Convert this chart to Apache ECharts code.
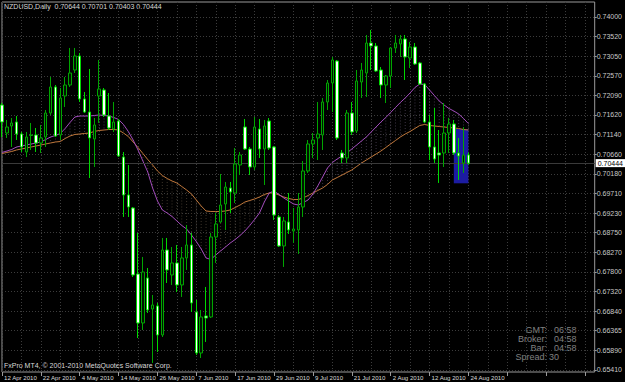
<!DOCTYPE html>
<html>
<head>
<meta charset="utf-8">
<script src="https://cdn.jsdelivr.net/npm/echarts@6/dist/echarts.min.js"></script>
<style>
html,body{margin:0;padding:0;background:#000;}
#chart{width:625px;height:382px;}
</style>
</head>
<body>
<div id="chart"></div>
<script>
// ---- data ----
const symbolTitle = 'NZDUSD,Daily  0.70644 0.70701 0.70403 0.70444';
const copyrightText = 'FxPro MT4, \u00a9 2001-2010 MetaQuotes Software Corp.';
const infoLabels = ['GMT:', 'Broker:', 'Bar:', 'Spread:'];
const infoValues = ['06:58', '04:58', '04:58', '30'];

const priceTickLabels = ['0.74000','0.73520','0.73050','0.72570','0.72090','0.71620','0.71140','0.70660','0.70180','0.69710',
  '0.69230','0.68750','0.68270','0.67800','0.67320','0.66840','0.66365','0.65890','0.65410'];

const opens = [0.71859,0.71177,0.71348,0.71445,0.71153,0.70715,0.71116,0.71129,0.70934,0.71080,
0.71664,0.72297,0.71129,0.72078,0.72345,0.72710,0.73051,0.72005,0.71688,0.71031,
0.72078,0.72224,0.71591,0.71275,0.71469,0.70593,0.69669,0.69352,0.67746,0.66554,
0.67649,0.66894,0.66968,0.66262,0.68330,0.67722,0.68014,0.67479,0.68136,0.68452,
0.66821,0.65824,0.66724,0.66700,0.68647,0.69012,0.69450,0.69839,0.69717,0.70399,
0.71323,0.70788,0.70350,0.71275,0.70788,0.71469,0.70837,0.69133,0.68428,0.69012,
0.68793,0.68817,0.69377,0.70253,0.70910,0.71056,0.71129,0.71932,0.72394,0.72929,
0.70691,0.70569,0.71664,0.71226,0.72418,0.72637,0.73367,0.73294,0.72710,0.72345,
0.72564,0.73246,0.73343,0.73465,0.73002,0.73270,0.72881,0.72370,0.71445,0.70837,
0.70691,0.70691,0.71177,0.71396,0.70691,0.70447,0.70644];

const closes = [0.71445,0.71323,0.71421,0.71153,0.70837,0.71080,0.71129,0.70934,0.71056,0.71664,
0.72297,0.71104,0.72029,0.72345,0.72637,0.73051,0.72005,0.71688,0.71056,0.71372,
0.72248,0.71615,0.71299,0.71445,0.70618,0.69669,0.69377,0.67722,0.66554,0.67795,
0.66870,0.66992,0.66262,0.68330,0.67844,0.68014,0.67479,0.68136,0.68452,0.67040,
0.65824,0.66700,0.66675,0.68647,0.68963,0.69425,0.69863,0.69742,0.70423,0.70642,
0.70788,0.70350,0.71323,0.70788,0.71348,0.70812,0.69182,0.68428,0.69036,0.68817,
0.68841,0.69377,0.70253,0.70910,0.71007,0.71153,0.71932,0.72394,0.72954,0.71056,
0.70569,0.71664,0.71202,0.72443,0.72710,0.73367,0.73294,0.72686,0.72345,0.72564,
0.73246,0.73367,0.73465,0.73027,0.73270,0.72856,0.72370,0.71445,0.70837,0.70545,
0.70642,0.71177,0.71396,0.70691,0.70618,0.70642,0.70444];

const lows = [0.71080,0.71056,0.70837,0.71007,0.70715,0.70593,0.70764,0.70715,0.70691,0.70837,
0.71615,0.71080,0.71007,0.71810,0.72297,0.72637,0.71932,0.71664,0.70082,0.70350,
0.71421,0.71567,0.71250,0.71202,0.70593,0.69133,0.69133,0.67673,0.66189,0.66384,
0.66797,0.65581,0.65848,0.66213,0.67527,0.67479,0.67308,0.67187,0.67844,0.66821,
0.65775,0.65702,0.66092,0.66675,0.68014,0.68987,0.68817,0.69231,0.69474,0.70155,
0.70764,0.70155,0.70277,0.70569,0.69912,0.70764,0.69060,0.68403,0.67917,0.68720,
0.68501,0.68233,0.69133,0.70204,0.70569,0.70520,0.70764,0.71737,0.71688,0.71007,
0.70447,0.70447,0.71129,0.71177,0.72029,0.72053,0.72710,0.72662,0.72029,0.71907,
0.72272,0.73124,0.73027,0.72467,0.72759,0.72832,0.72345,0.71421,0.70520,0.70447,
0.69961,0.70350,0.70691,0.70642,0.70034,0.70204,0.70403];

const highs = [0.71907,0.71494,0.71542,0.71591,0.71202,0.71202,0.71421,0.71299,0.71372,0.71737,
0.72540,0.72345,0.72272,0.72540,0.73246,0.73246,0.73124,0.72175,0.72735,0.71542,
0.72954,0.72272,0.72151,0.71932,0.71518,0.70715,0.70399,0.69377,0.68744,0.68160,
0.67892,0.67235,0.67040,0.68622,0.68622,0.68403,0.68452,0.68403,0.68939,0.68744,
0.67114,0.66870,0.67430,0.68744,0.69231,0.70180,0.69985,0.69985,0.70812,0.70715,
0.71518,0.70837,0.71567,0.71518,0.71494,0.71542,0.70861,0.69182,0.69133,0.69717,
0.69352,0.69717,0.70496,0.71007,0.71177,0.71932,0.72029,0.72467,0.73027,0.72954,
0.70764,0.71737,0.71932,0.72710,0.72881,0.73562,0.73684,0.73367,0.72783,0.72589,
0.73270,0.73562,0.73562,0.73562,0.73392,0.73367,0.72905,0.72394,0.71615,0.71786,
0.71250,0.71907,0.71542,0.71494,0.71056,0.71323,0.70701];

// Ichimoku Senkou Span A (sandy/orange) and Span B (thistle/purple)
const spanA = [0.70678,0.70703,0.70727,0.70764,0.70788,0.70812,0.70837,0.70861,0.70885,0.70910,
0.70934,0.70958,0.70970,0.71043,0.71104,0.71141,0.71153,0.71165,0.71177,0.71214,
0.71238,0.71250,0.71262,0.71262,0.71250,0.71177,0.71092,0.70958,0.70824,0.70678,
0.70532,0.70399,0.70253,0.70143,0.70070,0.70009,0.69961,0.69875,0.69790,0.69693,
0.69547,0.69401,0.69279,0.69267,0.69267,0.69267,0.69279,0.69304,0.69364,0.69425,
0.69498,0.69535,0.69571,0.69620,0.69681,0.69717,0.69717,0.69669,0.69620,0.69583,
0.69559,0.69559,0.69596,0.69656,0.69717,0.69778,0.69839,0.69924,0.70034,0.70094,
0.70155,0.70216,0.70277,0.70362,0.70447,0.70520,0.70593,0.70666,0.70739,0.70824,
0.70910,0.70995,0.71080,0.71153,0.71214,0.71287,0.71360,0.71384,0.71360,0.71348,
0.71335,0.71323,0.71311,0.71299,0.71287,0.71262,0.71250];

const spanB = [0.70703,0.70739,0.70776,0.70837,0.70861,0.70885,0.70910,0.70934,0.70958,0.71019,
0.71080,0.71116,0.71165,0.71287,0.71433,0.71567,0.71591,0.71591,0.71591,0.71603,
0.71615,0.71603,0.71591,0.71554,0.71506,0.71384,0.71214,0.71007,0.70764,0.70496,
0.70228,0.69839,0.69523,0.69304,0.69231,0.69145,0.69036,0.68926,0.68841,0.68695,
0.68537,0.68355,0.68136,0.68099,0.68209,0.68306,0.68403,0.68501,0.68586,0.68683,
0.68793,0.68926,0.69072,0.69231,0.69498,0.69717,0.69766,0.69681,0.69596,0.69523,
0.69450,0.69425,0.69486,0.69547,0.69693,0.69888,0.70107,0.70326,0.70459,0.70545,
0.70618,0.70691,0.70788,0.70885,0.70983,0.71080,0.71202,0.71323,0.71445,0.71554,
0.71676,0.71798,0.71920,0.72029,0.72151,0.72285,0.72370,0.72357,0.72224,0.72090,
0.71956,0.71859,0.71773,0.71713,0.71640,0.71530,0.71408];

const lastPrice = 0.70444;
const boxFromIndex = 93, boxToIndex = 96;
const boxTop = 0.71275, boxBottom = 0.69953;
const futureSlots = 26;
const yMin = 0.65361, yMax = 0.74365;

// ---- categories: trading days (Mon-Fri) from 12 Apr 2010 ----
const monthNames = ['Jan','Feb','Mar','Apr','May','Jun','Jul','Aug','Sep','Oct','Nov','Dec'];
const categories = [];
(function(){
  const d = new Date(Date.UTC(2010, 3, 12));
  while (categories.length < opens.length) {
    const wd = d.getUTCDay();
    if (wd !== 0 && wd !== 6) categories.push(d.getUTCDate() + ' ' + monthNames[d.getUTCMonth()] + ' ' + d.getUTCFullYear());
    d.setUTCDate(d.getUTCDate() + 1);
  }
})();
const axisCats = categories.slice();
for (let k = 1; k <= futureSlots; k++) axisCats.push('+' + k);

const candleData = opens.map((o, i) => [o, closes[i], lows[i], highs[i]]);
const cloudData = spanA.map((a, i) => [i, spanB[i], a]);
const tickValues = priceTickLabels.map(Number);

const FONT = '"Liberation Sans",Arial,sans-serif';

const chart = echarts.init(document.getElementById('chart'), null, {renderer: 'svg'});
chart.setOption({
  backgroundColor: '#000000',
  animation: false,
  grid: {left: 2, right: 23, top: 2, bottom: 10, show: true, borderColor: '#9a9a9a', borderWidth: 1, backgroundColor: 'transparent'},
  xAxis: {
    type: 'category', data: axisCats, boundaryGap: false,
    axisLine: {show: false},
    axisTick: {show: true, interval: 7, length: 4, lineStyle: {color: '#9a9a9a'}},
    axisLabel: {show: true, interval: 7, align: 'left', margin: 2, padding: [0,0,0,2],
      color: '#d8d8d8', fontSize: 6.1, fontFamily: FONT,
      formatter: (v, i) => (i < categories.length ? v : '')},
    splitLine: {show: true, interval: 3, lineStyle: {color: '#3c3c3c', type: [1, 2], width: 1}}
  },
  yAxis: {
    type: 'value', position: 'right', min: yMin, max: yMax, scale: true,
    axisLine: {show: false},
    axisTick: {show: true, length: 2, customValues: tickValues, lineStyle: {color: '#9a9a9a'}},
    axisLabel: {show: true, margin: 2, customValues: tickValues, color: '#c8c8c8', fontSize: 7, fontFamily: FONT,
      formatter: v => v.toFixed(5)},
    splitLine: {show: true, lineStyle: {color: '#3c3c3c', type: [1, 2], width: 1}}
  },
  series: [
    {
      type: 'custom', name: 'cloud', z: 1, data: cloudData, clip: true,
      renderItem: function (params, api) {
        const p1 = api.coord([api.value(0), api.value(1)]);
        const p2 = api.coord([api.value(0), api.value(2)]);
        const up = api.value(1) > api.value(2);
        return {type: 'line', shape: {x1: p1[0], y1: p1[1], x2: p2[0], y2: p2[1]},
          style: {stroke: up ? '#3c3444' : '#3e362c', lineWidth: 1, lineDash: [1, 2]}};
      },
      markArea: {silent: true, itemStyle: {color: '#1c1ca2', opacity: 1},
        data: [[{coord: [boxFromIndex, boxTop]}, {coord: [boxToIndex, boxBottom]}]]},
      markLine: {silent: true, symbol: 'none', precision: 5,
        lineStyle: {color: '#3a3a3a', type: 'solid', width: 1},
        label: {show: true, position: 'end', distance: 1, formatter: () => lastPrice.toFixed(5),
          backgroundColor: '#ffffff', color: '#000000', fontSize: 7, fontFamily: FONT, padding: [1, 2, 0, 2]},
        data: [{yAxis: lastPrice}]}
    },
    {type: 'line', name: 'Senkou Span A', z: 2, data: spanA, symbol: 'none', smooth: false,
      lineStyle: {color: '#c0783c', width: 1}},
    {type: 'line', name: 'Senkou Span B', z: 2, data: spanB, symbol: 'none', smooth: false,
      lineStyle: {color: '#a24cbc', width: 1}},
    {type: 'candlestick', name: 'NZDUSD', z: 5, data: candleData, barWidth: 3,
      itemStyle: {color: '#001400', color0: '#ffffff', borderColor: '#00a600', borderColor0: '#00d800', borderColorDoji: '#00a600', borderWidth: 1}}
  ],
  graphic: [
    {type: 'text', left: 4, top: 3, silent: true, style: {text: symbolTitle, fill: '#d8d8d8', font: '7px ' + FONT}},
    {type: 'text', left: 4, top: 362, silent: true, style: {text: copyrightText, fill: '#d8d8d8', font: '7px ' + FONT}}
  ].concat(infoLabels.map((t, k) => ({type: 'text', x: 547, y: 325 + k * 9.2, silent: true,
      style: {text: t, fill: '#808080', font: '9px ' + FONT, textAlign: 'right'}})))
   .concat(infoValues.map((t, k) => ({type: 'text', x: k === 3 ? 549 : 554, y: 325 + k * 9.2, silent: true,
      style: {text: t, fill: '#808080', font: '9px ' + FONT, textAlign: 'left'}})))
});
</script>
</body>
</html>
